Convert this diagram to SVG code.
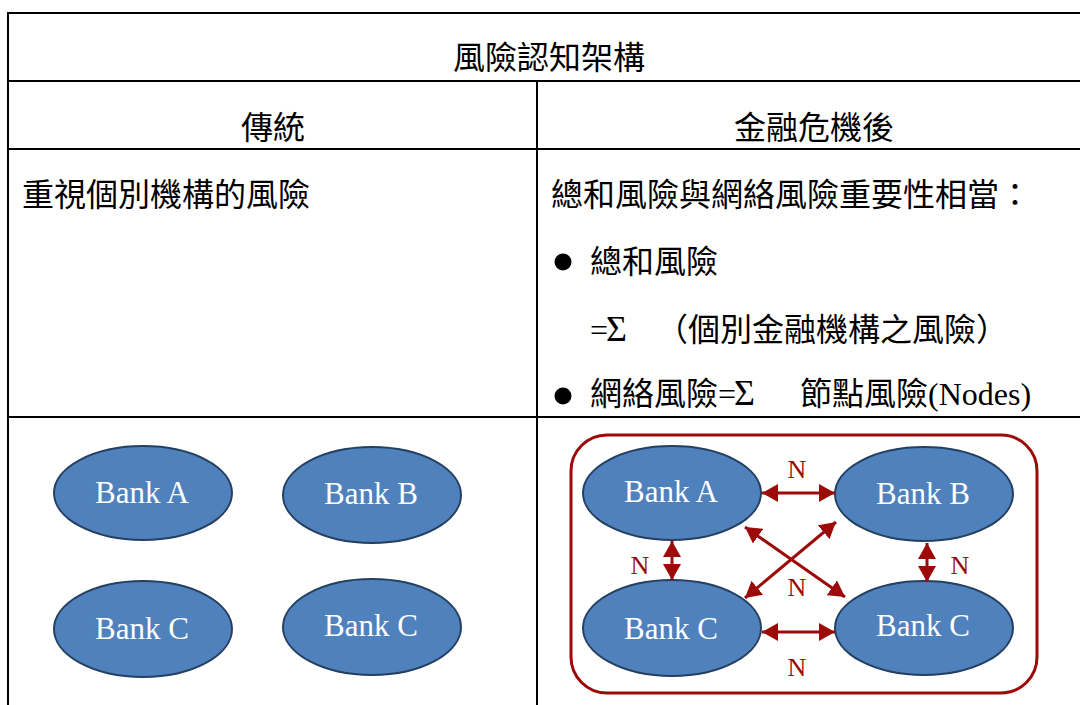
<svg xmlns="http://www.w3.org/2000/svg" width="1080" height="705" viewBox="0 0 1080 705">
  <defs>
    <style>
      .grid { stroke: #000; stroke-width: 2; fill: none; }
      .cjk { font-family: "Noto Sans CJK TC", "Noto Sans CJK SC", sans-serif; font-size: 32px; fill: #000; }
      .ser { font-family: "Liberation Serif", "Times New Roman", serif; font-size: 32px; fill: #000; }
      .sig { font-family: "Liberation Serif", "Times New Roman", serif; font-size: 36px; fill: #000; }
      .bank ellipse { fill: #4F81BD; stroke: #243F60; stroke-width: 2; }
      .bank text { font-family: "Liberation Serif", "Times New Roman", serif; font-size: 31px; fill: #fff; text-anchor: middle; }
      .link { stroke: #9C0A0A; stroke-width: 3; fill: none; marker-start: url(#ah); marker-end: url(#ah); }
      .lbl { font-family: "Liberation Serif", "Times New Roman", serif; font-size: 26px; fill: #9C0A0A; text-anchor: middle; }
    </style>
    <marker id="ah" viewBox="0 0 16 18" refX="16" refY="9" markerWidth="16" markerHeight="18" markerUnits="userSpaceOnUse" orient="auto-start-reverse">
      <path d="M0,0 L16,9 L0,18 Z" fill="#9C0A0A"/>
    </marker>
  </defs>
  <rect width="1080" height="705" fill="#fff"/>

  <g id="table">
    <line class="grid" x1="7" y1="13" x2="1080" y2="13"/>
    <line class="grid" x1="8" y1="12" x2="8" y2="705"/>
    <line class="grid" x1="7" y1="81" x2="1080" y2="81"/>
    <line class="grid" x1="7" y1="149" x2="1080" y2="149"/>
    <line class="grid" x1="7" y1="417" x2="1080" y2="417"/>
    <line class="grid" x1="537" y1="81" x2="537" y2="705"/>
  </g>

  <g id="texts">
    <text class="cjk" x="549" y="69" text-anchor="middle">風險認知架構</text>
    <text class="cjk" x="273" y="139" text-anchor="middle">傳統</text>
    <text class="cjk" x="814" y="139" text-anchor="middle">金融危機後</text>
    <text class="cjk" x="22" y="206">重視個別機構的風險</text>
    <text class="cjk" x="551" y="206">總和風險與網絡風險重要性相當：</text>
    <circle cx="563" cy="262" r="8.5" fill="#000"/>
    <text class="cjk" x="590" y="273">總和風險</text>
    <text class="ser" x="590" y="341">=</text>
    <text class="sig" x="606" y="341">Σ</text>
    <text class="cjk" x="656" y="341">（個別金融機構之風險）</text>
    <circle cx="563" cy="396" r="8.5" fill="#000"/>
    <text class="cjk" x="590" y="405">網絡風險</text>
    <text class="ser" x="718" y="405">=</text>
    <text class="sig" x="734" y="405">Σ</text>
    <text class="cjk" x="800" y="405">節點風險</text>
    <text class="ser" x="928" y="405">(Nodes)</text>
  </g>

  <g id="left-banks">
    <g id="l-bank-a" class="bank"><ellipse cx="143" cy="493" rx="89" ry="47"/><text x="142" y="503">Bank A</text></g>
    <g id="l-bank-b" class="bank"><ellipse cx="372" cy="495" rx="89" ry="48"/><text x="371" y="504">Bank B</text></g>
    <g id="l-bank-c1" class="bank"><ellipse cx="143" cy="629" rx="89" ry="48"/><text x="142" y="639">Bank C</text></g>
    <g id="l-bank-c2" class="bank"><ellipse cx="372" cy="627" rx="89" ry="48"/><text x="371" y="636">Bank C</text></g>
  </g>

  <g id="network">
    <rect id="frame" x="571" y="435" width="466" height="258" rx="36" ry="36" fill="none" stroke="#9C0A0A" stroke-width="3"/>
    <g id="r-bank-a" class="bank"><ellipse cx="672" cy="493" rx="89" ry="47"/><text x="671" y="502">Bank A</text></g>
    <g id="r-bank-b" class="bank"><ellipse cx="924" cy="494" rx="89" ry="47"/><text x="923" y="504">Bank B</text></g>
    <g id="r-bank-c1" class="bank"><ellipse cx="672" cy="628" rx="89" ry="48"/><text x="671" y="639">Bank C</text></g>
    <g id="r-bank-c2" class="bank"><ellipse cx="924" cy="628" rx="89" ry="47"/><text x="923" y="636">Bank C</text></g>
  </g>

  <g id="connectors">
    <line class="link" x1="762" y1="493" x2="835" y2="493"/>
    <line class="link" x1="762" y1="632" x2="835" y2="632"/>
    <line class="link" x1="672" y1="541" x2="672" y2="580"/>
    <line class="link" x1="927" y1="543" x2="927" y2="582"/>
    <line class="link" x1="745" y1="527" x2="845" y2="597"/>
    <line class="link" x1="836" y1="522" x2="745" y2="598"/>
  </g>

  <g id="labels">
    <text class="lbl" x="797" y="478">N</text>
    <text class="lbl" x="640" y="574">N</text>
    <text class="lbl" x="960" y="574">N</text>
    <text class="lbl" x="797" y="596">N</text>
    <text class="lbl" x="797" y="676">N</text>
  </g>
</svg>
